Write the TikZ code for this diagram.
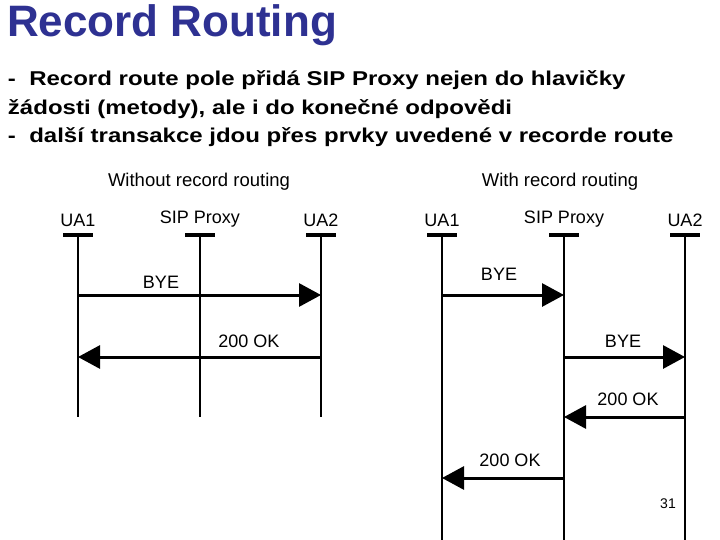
\documentclass[tikz,border=0pt]{standalone}
\usepackage{fontspec}
\setmainfont{Liberation Sans}
\newfontfamily\widefont[FakeStretch=1.2]{Liberation Sans}
\usepackage{xcolor}
\usepackage{tikz}
\usetikzlibrary{positioning,arrows.meta}
\definecolor{titleblue}{RGB}{46,49,146}
\tikzset{
  every node/.style={inner sep=0pt, outer sep=0pt}
}

\begin{document}
\begin{tikzpicture}[x=1pt, y=-1pt,
									party/.style = {font=\fontsize{18}{18}\selectfont, anchor=base},
									caption/.style = {font=\fontsize{18.5}{18.5}\selectfont},
									msglabel/.style = {font=\fontsize{18}{18}\selectfont},
									bar/.style = {line width=3.5pt},
									life/.style = {line width=2.8pt},
									msg/.style = {line width=3pt, -{Triangle[length=22pt,width=23pt]}},
									bodytext/.style = {font=\widefont\bfseries\fontsize{20}{20}\selectfont, anchor=base west}]
					\useasboundingbox (0,0) rectangle (720,540);
					\fill[white] (0,0) rectangle (720,540);
					
					% title and text
					\node[font=\bfseries\fontsize{44}{44}\selectfont, text=titleblue, anchor=base west] (title) at (7,37) {Record Routing};
					\node[bodytext] (line1) at (8,86) {-\ \ Record route pole přidá SIP Proxy nejen do hlavičky};
					\node[bodytext] (line2) at (8,115) {žádosti (metody), ale i do konečné odpovědi};
					\node[bodytext] (line3) at (8,143) {-\ \ další transakce jdou přes prvky uvedené v recorde route};
					
					% without record routing
					\node[caption] (capA) at (199,182) {Without record routing};
					\node[party] (aua1) at (78,226) {UA1};
					\node[party] (aprx) at (200,224) {SIP Proxy};
					\node[party] (aua2) at (321,226) {UA2};
					\coordinate (aua1t) at (78,235);
					\coordinate (aprxt) at (200,235);
					\coordinate (aua2t) at (321,235);
					\coordinate (aua1b) at (78,417);
					\coordinate (aprxb) at (200,417);
					\coordinate (aua2b) at (321,417);
					\draw[bar] ([xshift=-15pt]aua1t) -- ([xshift=15pt]aua1t);
					\draw[bar] ([xshift=-15pt]aprxt) -- ([xshift=15pt]aprxt);
					\draw[bar] ([xshift=-15pt]aua2t) -- ([xshift=15pt]aua2t);
					\draw[life] (aua1t) -- (aua1b);
					\draw[life] (aprxt) -- (aprxb);
					\draw[life] (aua2t) -- (aua2b);
					
					\coordinate (a1s) at (78,295);
					\coordinate (a1e) at (321,295);
					\coordinate (a2s) at (321,357);
					\coordinate (a2e) at (78,357);
					\draw[msg] (a1s) -- (a1e);
					\draw[msg] (a2s) -- (a2e);
					\node[msglabel] (abye) at (161,282) {BYE};
					\node[msglabel] (aok) at (249,341) {200 OK};
					
					% with record routing
					\node[caption] (capB) at (560,182) {With record routing};
					\node[party] (bua1) at (442,226) {UA1};
					\node[party] (bprx) at (564,224) {SIP Proxy};
					\node[party] (bua2) at (685,226) {UA2};
					\coordinate (bua1t) at (442,235);
					\coordinate (bprxt) at (564,235);
					\coordinate (bua2t) at (685,235);
					\coordinate (bua1b) at (442,540);
					\coordinate (bprxb) at (564,540);
					\coordinate (bua2b) at (685,540);
					\draw[bar] ([xshift=-15pt]bua1t) -- ([xshift=15pt]bua1t);
					\draw[bar] ([xshift=-15pt]bprxt) -- ([xshift=15pt]bprxt);
					\draw[bar] ([xshift=-15pt]bua2t) -- ([xshift=15pt]bua2t);
					\draw[life] (bua1t) -- (bua1b);
					\draw[life] (bprxt) -- (bprxb);
					\draw[life] (bua2t) -- (bua2b);
					
					\coordinate (b1s) at (442,295);
					\coordinate (b1e) at (564,295);
					\coordinate (b2s) at (564,357);
					\coordinate (b2e) at (685,357);
					\coordinate (b3s) at (685,417);
					\coordinate (b3e) at (564,417);
					\coordinate (b4s) at (564,478);
					\coordinate (b4e) at (442,478);
					\draw[msg] (b1s) -- (b1e);
					\draw[msg] (b2s) -- (b2e);
					\draw[msg] (b3s) -- (b3e);
					\draw[msg] (b4s) -- (b4e);
					\node[msglabel] (bbye1) at (499,274) {BYE};
					\node[msglabel] (bbye2) at (623,341) {BYE};
					\node[msglabel] (bok1) at (628,399) {200 OK};
					\node[msglabel] (bok2) at (510,460) {200 OK};
					
					\node[font=\fontsize{14}{14}\selectfont] (pgnum) at (668,504) {31};
				\end{tikzpicture}
\end{document}
